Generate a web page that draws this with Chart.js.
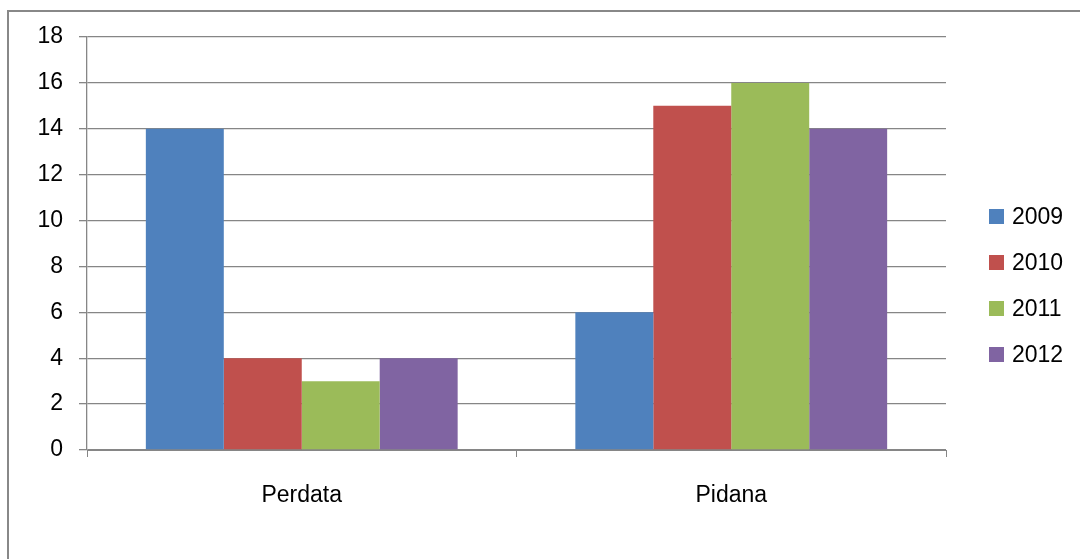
<!DOCTYPE html>
<html>
<head>
<meta charset="utf-8">
<script src="https://cdn.jsdelivr.net/npm/chart.js@4/dist/chart.umd.min.js"></script>
<style>
  body { margin: 0; background: #fff; overflow: hidden; }
  #frame { position: absolute; left: 7px; top: 10px; width: 1100px; height: 600px; border: 2px solid #888; }
  #wrap { position: absolute; left: 0; top: 0; width: 1080px; height: 559px; }
</style>
</head>
<body>
<div id="frame"></div>
<div id="wrap"><canvas id="chart" width="1080" height="559"></canvas></div>
<script>
const categories = ["Perdata", "Pidana"];
const years = ["2009", "2010", "2011", "2012"];
const values2009 = [14, 6];
const values2010 = [4, 15];
const values2011 = [3, 16];
const values2012 = [4, 14];
const colors = ["#4F81BD", "#C0504D", "#9BBB59", "#8064A2"];

const FONT = { family: "'Liberation Sans', Arial, sans-serif", size: 23 };
const GRID = "#868686";

// legend drawn on the right, like the office chart
const sideLegend = {
  id: "sideLegend",
  afterDraw(chart) {
    const ctx = chart.ctx;
    const x = chart.chartArea.right + 43;
    let y = 217;
    ctx.save();
    ctx.font = FONT.size + "px " + FONT.family;
    ctx.textBaseline = "middle";
    chart.data.datasets.forEach(ds => {
      ctx.fillStyle = ds.backgroundColor;
      ctx.fillRect(x, y - 8, 15, 15);
      ctx.fillStyle = "#000";
      ctx.fillText(ds.label, x + 23, y + 1);
      y += 46;
    });
    ctx.restore();
  }
};

const series = [values2009, values2010, values2011, values2012];

new Chart(document.getElementById("chart"), {
  type: "bar",
  data: {
    labels: categories,
    datasets: years.map((y, i) => ({
      label: y,
      data: series[i],
      backgroundColor: colors[i],
      borderWidth: 0,
      categoryPercentage: 0.726,
      barPercentage: 1
    }))
  },
  options: {
    responsive: false,
    animation: false,
    devicePixelRatio: 1,
    layout: { padding: { top: 37, right: 134, left: 0, bottom: 0 } },
    plugins: { legend: { display: false }, tooltip: { enabled: false } },
    scales: {
      x: {
        afterFit: s => { s.height = 109; },
        grid: { drawOnChartArea: false, color: GRID, tickLength: 7 },
        border: { color: GRID, width: 1 },
        ticks: { color: "#000", font: FONT, padding: 25 }
      },
      y: {
        min: 0,
        max: 18,
        afterFit: s => { s.width = 87; },
        grid: { color: GRID, tickLength: 8, lineWidth: 1.3 },
        border: { color: GRID, width: 1.3 },
        ticks: { stepSize: 2, color: "#000", font: FONT, padding: 16 }
      }
    }
  },
  plugins: [sideLegend]
});
</script>
</body>
</html>
